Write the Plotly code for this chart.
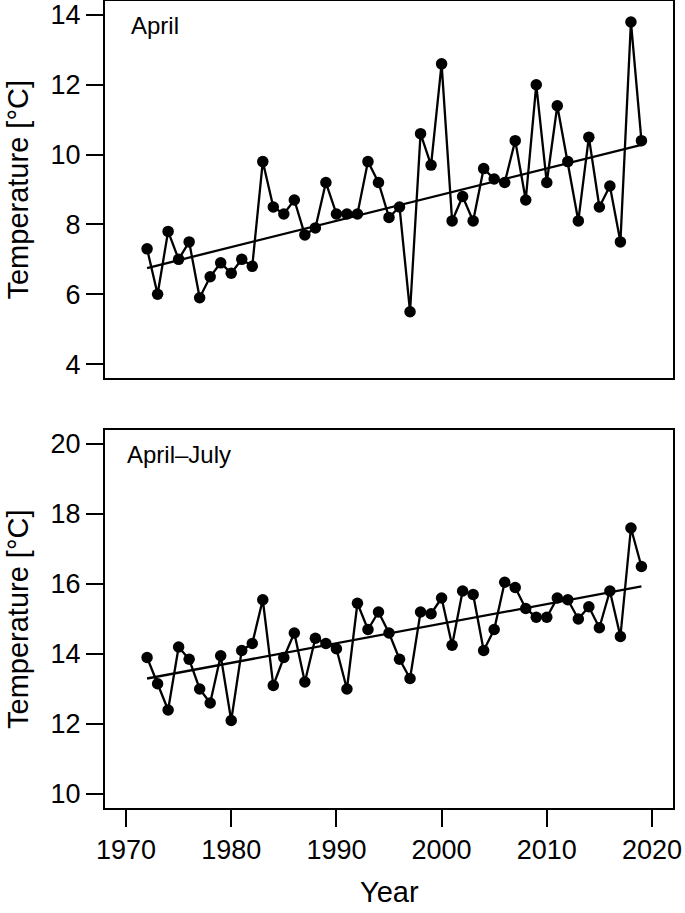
import plotly.graph_objects as go
from plotly.subplots import make_subplots

years = list(range(1972, 2020))

april = [7.3, 6.0, 7.8, 7.0, 7.5, 5.9, 6.5, 6.9, 6.6, 7.0,
         6.8, 9.8, 8.5, 8.3, 8.7, 7.7, 7.9, 9.2, 8.3, 8.3,
         8.3, 9.8, 9.2, 8.2, 8.5, 5.5, 10.6, 9.7, 12.6, 8.1,
         8.8, 8.1, 9.6, 9.3, 9.2, 10.4, 8.7, 12.0, 9.2, 11.4,
         9.8, 8.1, 10.5, 8.5, 9.1, 7.5, 13.8, 10.4]

april_july = [13.9, 13.15, 12.4, 14.2, 13.85, 13.0, 12.6, 13.95, 12.1, 14.1,
              14.3, 15.55, 13.1, 13.9, 14.6, 13.2, 14.45, 14.3, 14.15, 13.0,
              15.45, 14.7, 15.2, 14.6, 13.85, 13.3, 15.2, 15.15, 15.6, 14.25,
              15.8, 15.7, 14.1, 14.7, 16.05, 15.9, 15.3, 15.05, 15.05, 15.6,
              15.55, 15.0, 15.35, 14.75, 15.8, 14.5, 17.6, 16.5]

trend_years = [1972, 2019]
trend_april = [6.75, 10.28]
trend_april_july = [13.3, 15.93]

x_ticks = [1970, 1980, 1990, 2000, 2010, 2020]
y_ticks_top = [4, 6, 8, 10, 12, 14]
y_ticks_bottom = [10, 12, 14, 16, 18, 20]

FONT = "Liberation Sans, Arial, Helvetica, sans-serif"

fig = make_subplots(rows=2, cols=1, vertical_spacing=0.0644)

for row, vals, trend in [(1, april, trend_april), (2, april_july, trend_april_july)]:
    fig.add_trace(go.Scatter(x=years, y=vals, mode="lines+markers",
                             line=dict(color="black", width=2.3),
                             marker=dict(color="black", size=11.5),
                             showlegend=False), row=row, col=1)
    fig.add_trace(go.Scatter(x=trend_years, y=trend, mode="lines",
                             line=dict(color="black", width=2.3),
                             showlegend=False), row=row, col=1)

axis_common = dict(showline=True, mirror=True, linecolor="black", linewidth=2,
                   showgrid=False, zeroline=False, ticklen=17, tickwidth=2,
                   automargin=False,
                   tickcolor="black", tickfont=dict(size=27, color="black", family=FONT))

fig.update_xaxes(range=[1968, 2022], **axis_common)
fig.update_xaxes(ticks="", showticklabels=False, row=1, col=1)
fig.update_xaxes(ticks="outside", tickvals=x_ticks, row=2, col=1)

fig.update_yaxes(ticks="outside", **axis_common)
fig.update_yaxes(range=[3.6, 14.4], tickvals=y_ticks_top, domain=[0.5328, 1.0], row=1, col=1)
fig.update_yaxes(range=[9.6, 20.4], tickvals=y_ticks_bottom, domain=[0.0, 0.4684], row=2, col=1)

title_font = dict(size=29, color="black", family=FONT)
fig.add_annotation(text="Temperature [°C]", xref="paper", yref="paper", x=0, y=0.7664,
                   xshift=-87, textangle=-90, xanchor="center", yanchor="middle",
                   showarrow=False, font=title_font)
fig.add_annotation(text="Temperature [°C]", xref="paper", yref="paper", x=0, y=0.2342,
                   xshift=-87, textangle=-90, xanchor="center", yanchor="middle",
                   showarrow=False, font=title_font)
fig.add_annotation(text="Year", xref="paper", yref="paper", x=0.5, y=0,
                   yshift=-84, xanchor="center", yanchor="middle",
                   showarrow=False, font=title_font)

fig.add_annotation(text="April", xref="x domain", yref="y domain", x=0.043, y=0.975,
                   xanchor="left", yanchor="top", showarrow=False,
                   font=dict(size=24, color="black", family=FONT), row=1, col=1)
fig.add_annotation(text="April–July", xref="x2 domain", yref="y2 domain", x=0.036, y=0.975,
                   xanchor="left", yanchor="top", showarrow=False,
                   font=dict(size=24, color="black", family=FONT), row=2, col=1)

fig.update_layout(width=685, height=913, plot_bgcolor="white", paper_bgcolor="white",
                  margin=dict(l=105, r=12, t=1, b=105), font=dict(family=FONT, color="black"))

fig.write_html("out.html", config={"displayModeBar": False},
               post_script="document.body.style.margin='0';")
